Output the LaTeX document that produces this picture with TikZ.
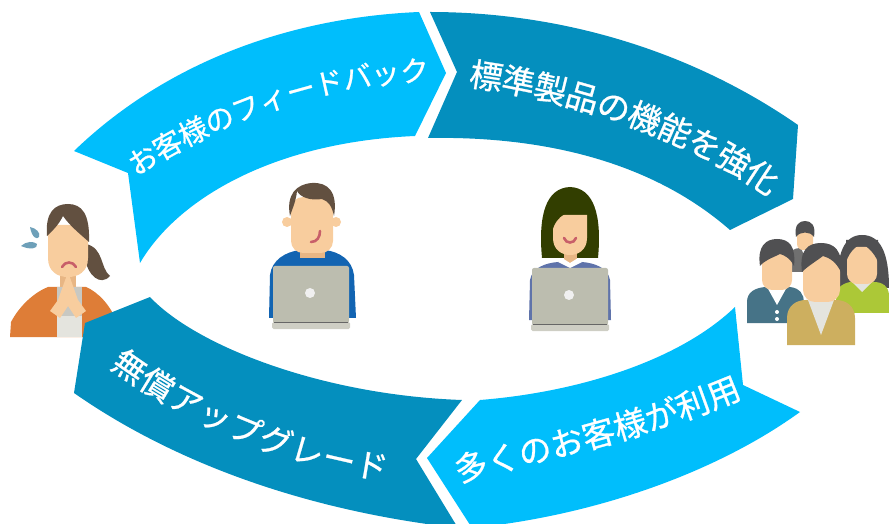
\documentclass[tikz,border=0pt]{standalone}
\usepackage{fontspec}
\newfontfamily\jpfont[FakeBold=0.8]{Noto Sans CJK JP}
\usepackage{xcolor}
\usetikzlibrary{decorations.text}

\definecolor{cyclelight}{RGB}{0,190,252}
\definecolor{cycledark}{RGB}{4,143,190}
\definecolor{skincol}{RGB}{248,205,158}
\definecolor{skinshade}{RGB}{232,182,132}
\definecolor{hairbrown}{RGB}{98,80,64}
\definecolor{hairolive}{RGB}{50,62,0}
\definecolor{grouphair}{RGB}{80,80,82}
\definecolor{manshirt}{RGB}{18,100,178}
\definecolor{womanshirt}{RGB}{95,115,170}
\definecolor{orangecol}{RGB}{222,125,55}
\definecolor{shirtgray}{RGB}{200,200,194}
\definecolor{shirtwhite}{RGB}{228,228,222}
\definecolor{laptopcol}{RGB}{188,189,175}
\definecolor{laptopbase}{RGB}{206,206,196}
\definecolor{mouthcol}{RGB}{200,95,105}
\definecolor{dropcol}{RGB}{110,160,185}
\definecolor{tealcol}{RGB}{70,115,135}
\definecolor{greencol}{RGB}{172,200,55}
\definecolor{goldcol}{RGB}{205,175,95}
\definecolor{backgray}{RGB}{112,112,112}

\newcommand\smallband{\jpfont\fontsize{29}{29}\selectfont}
\newcommand\bigband{\jpfont\fontsize{33}{33}\selectfont}

\begin{document}
\begin{tikzpicture}[x=1bp,y=-1bp]
  \tikzset{lightband/.style = {fill=cyclelight}}
  \tikzset{darkband/.style = {fill=cycledark}}
  \tikzset{bandtext/.style = {decorate, decoration={text along path, text align=center, text color=white}}}
  \tikzset{mouthline/.style = {draw=mouthcol, line width=2.6bp, line cap=round}}
  \tikzset{face/.style = {fill=skincol}}

  \useasboundingbox (0,0) rectangle (889,524);
  \clip (0,0) rectangle (889,524);

  % customer on the left, asking for help
  \fill[hairbrown] (86,244) .. controls (104,248) and (100,268) .. (110,276) .. controls (100,287) and (88,274) .. (86,262) -- cycle;
  \fill[orangecol] (10,337) -- (11,322) .. controls (20,305) and (35,292) .. (48,287) -- (86,287) .. controls (98,292) and (110,305) .. (116,320) -- (118,337) -- cycle;
  \fill[shirtgray] (57,287) rectangle (82,337);
  \fill[shirtwhite] (57,316) rectangle (82,337);
  \fill[skinshade] (60,268) rectangle (76,287);
  \fill[skincol] (68,272) -- (58,300) -- (50,311) -- (60,318) -- (68,306) -- (76,318) -- (86,311) -- (78,300) -- cycle;
  \fill[face] (48,225) -- (48,258) .. controls (48,272) and (58,277) .. (68,277) .. controls (78,277) and (88,272) .. (88,258) -- (88,225) -- cycle;
  \fill[hairbrown] (47,236) .. controls (45,212) and (55,204) .. (68,204) .. controls (82,204) and (90,214) .. (89,242) .. controls (80,234) and (70,226) .. (63,216) .. controls (58,226) and (52,231) .. (47,236) -- cycle;
  \draw[mouthline] (62,267) .. controls (65,261) and (73,261) .. (76,267);
  \fill[dropcol] (30,227) .. controls (36,228) and (41,233) .. (39,237) .. controls (37,240) and (32,238) .. (30,227) -- cycle;
  \fill[dropcol] (21,246) .. controls (26,241) and (34,241) .. (37,244) .. controls (38,249) and (30,250) .. (21,246) -- cycle;

  % developer (man) at his laptop
  \fill[manshirt] (269,318) -- (270,275) .. controls (272,260) and (285,252) .. (300,250) -- (325,250) .. controls (340,252) and (352,260) .. (354,275) -- (356,318) -- cycle;
  \fill[skinshade] (300,238) rectangle (325,258);
  \fill[skincol] (287,222) circle (5) (336,222) circle (5);
  \fill[face, rounded corners=12bp] (291,197) rectangle (333,253);
  \fill[hairbrown] (290,216) .. controls (286,195) and (296,184) .. (312,183) .. controls (328,182) and (338,192) .. (334,216) .. controls (332,206) and (328,201) .. (322,199) .. controls (310,201) and (300,197) .. (297,191) .. controls (296,201) and (293,207) .. (290,216) -- cycle;
  \draw[mouthline] (311,242) .. controls (317,242) and (320,237) .. (320,231);

  % developer (woman) at her laptop
  \fill[womanshirt] (529,320) -- (530,280) .. controls (532,268) and (545,263) .. (558,262) -- (582,262) .. controls (595,263) and (608,268) .. (610,280) -- (611,320) -- cycle;
  \fill[hairolive] (542,258) .. controls (538,215) and (546,188) .. (570,187) .. controls (594,188) and (602,215) .. (598,258) -- cycle;
  \fill[skinshade] (564,248) rectangle (577,264);
  \fill[white] (558,262) -- (570,268) -- (582,262) -- (578,258) -- (570,263) -- (562,258) -- cycle;
  \fill[face] (553,215) -- (553,238) .. controls (553,250) and (562,255) .. (570,255) .. controls (578,255) and (587,250) .. (587,238) -- (587,215) -- cycle;
  \fill[hairolive] (552,232) .. controls (556,215) and (570,207) .. (588,214) -- (588,204) -- (552,204) -- cycle;
  \draw[mouthline] (564,238) .. controls (566,244) and (574,244) .. (576,238);

  % laptops
  \foreach \lx/\ly in {311/266, 570/268}
  {
    \fill[laptopcol, rounded corners=2bp] (\lx-38,\ly) rectangle (\lx+38,\ly+57);
    \fill[laptopbase, rounded corners=1.5bp] (\lx-39,\ly+56) rectangle (\lx+39,\ly+63);
    \draw[black!60, line width=1bp] (\lx-37,\ly+56) -- (\lx+37,\ly+56);
    \fill[white!94!black] (\lx-1,\ly+27) circle (5);
  }

  % group of customers on the right
  \fill[backgray] (788,272) -- (788,258) .. controls (788,251) and (795,248) .. (800,248) -- (812,248) .. controls (818,248) and (822,252) .. (822,258) -- (822,272) -- cycle;
  \fill[white] (801,248) -- (806,259) -- (811,248) -- cycle;
  \fill[face, rounded corners=6bp] (797,226) rectangle (813,250);
  \fill[grouphair] (796,237) .. controls (794,225) and (799,221) .. (805,221) .. controls (811,221) and (816,225) .. (814,237) .. controls (810,231) and (800,231) .. (796,237) -- cycle;

  \fill[tealcol] (747,323) -- (747,302) .. controls (747,292) and (755,288) .. (765,287) -- (790,287) .. controls (800,288) and (804,295) .. (804,302) -- (804,323) -- cycle;
  \fill[white] (767,287) -- (777,305) -- (787,287) -- cycle;
  \fill[white] (777,312) circle (2) (777,319) circle (2);
  \fill[face, rounded corners=10bp] (762,248) rectangle (792,290);
  \fill[grouphair] (760,266) .. controls (757,246) and (766,239) .. (777,239) .. controls (789,239) and (796,246) .. (794,266) .. controls (790,258) and (784,255) .. (780,254) .. controls (772,258) and (765,260) .. (760,266) -- cycle;

  \fill[grouphair] (838,288) .. controls (836,252) and (845,235) .. (862,235) .. controls (880,235) and (889,252) .. (889,288) -- cycle;
  \fill[greencol] (836,313) -- (836,296) .. controls (836,287) and (845,282) .. (852,282) -- (874,282) .. controls (882,282) and (889,286) .. (889,296) -- (889,313) -- cycle;
  \fill[shirtwhite] (852,282) -- (862,292) -- (872,282) -- cycle;
  \fill[face, rounded corners=10bp] (847,247) rectangle (877,284);
  \fill[grouphair] (846,262) .. controls (850,250) and (858,245) .. (862,243) .. controls (868,248) and (874,252) .. (878,262) -- (878,240) -- (846,240) -- cycle;

  \fill[goldcol] (787,345) -- (787,318) .. controls (787,306) and (796,300) .. (806,300) -- (836,300) .. controls (846,300) and (855,306) .. (855,318) -- (855,345) -- cycle;
  \fill[shirtwhite] (808,300) -- (821,335) -- (834,300) -- cycle;
  \fill[face, rounded corners=12bp] (803,252) rectangle (840,302);
  \fill[grouphair] (802,272) .. controls (799,250) and (808,243) .. (821,243) .. controls (834,243) and (843,250) .. (841,272) .. controls (836,262) and (830,258) .. (823,256) .. controls (815,262) and (808,266) .. (802,272) -- cycle;

  % the four bands of the cycle
  \fill[lightband] (74,151) -- (128,173) -- (140,263) .. controls (178,198) and (275,142) .. (415,136) -- (446,73) -- (419,12) .. controls (280,18) and (160,68) .. (74,151) -- cycle;
  \fill[darkband] (430,12) -- (457,72) -- (428,138) .. controls (540,136) and (650,160) .. (730,230) -- (793,199) -- (798,125) .. controls (690,50) and (560,12) .. (430,12) -- cycle;
  \fill[lightband] (735,307) -- (743,385) -- (800,412) .. controls (720,470) and (600,515) .. (472,528) -- (427,458) -- (480,400) .. controls (580,392) and (680,360) .. (735,307) -- cycle;
  \fill[darkband] (150,297) .. controls (195,345) and (320,395) .. (462,400) -- (416,459) -- (458,528) .. controls (300,510) and (170,460) .. (74,393) -- (85,323) -- cycle;

  % band labels
  \path[bandtext, decoration={raise=-11bp, text={|\smallband|お客様のフィードバック}}]
    (126,170) .. controls (210,115) and (315,72) .. (434,70);
  \path[bandtext, decoration={raise=-12.5bp, text={|\bigband|標準製品の機能を強化}}]
    (460,72) .. controls (560,84) and (690,122) .. (784,192);
  \path[bandtext, decoration={raise=-12.5bp, text={|\bigband|多くのお客様が利用}}]
    (446,473) .. controls (540,448) and (650,425) .. (747,382);
  \path[bandtext, decoration={raise=-12.5bp, text={|\bigband|無償アップグレード}}]
    (110,352) .. controls (190,412) and (290,456) .. (396,469);

\end{tikzpicture}
\end{document}
